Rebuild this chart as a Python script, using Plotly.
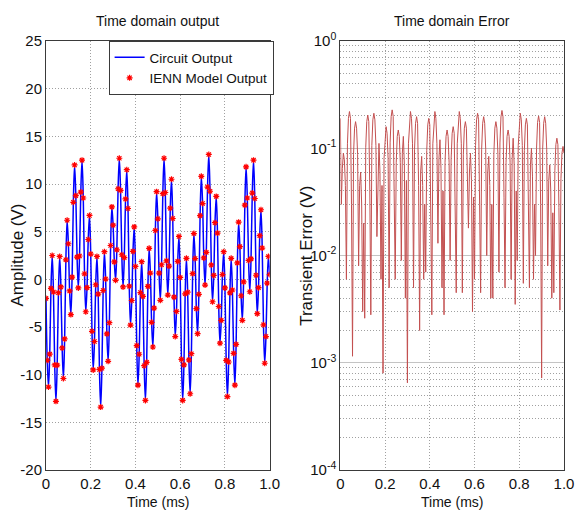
import plotly.graph_objects as go

# ---------------- data ----------------
# Left panel: circuit output (V), sampled uniformly from 0 to 1 ms
output_dt_ms = 1 / 180
circuit_output = [
    -2.0, -8.5, -11.3, -7.85, -0.95, 2.5,
    -1.33, -8.98, -12.8, -9.0, -1.4, 2.4,
    -0.8, -7.2, -10.4, -6.25, 2.05, 6.2,
    3.73, -1.22, -3.7, 0.23, 8.08, 12.0,
    8.78, 2.33, -0.9, 2.45, 9.15, 12.5,
    8.53, 0.58, -3.4, -0.87, 4.18, 6.7,
    2.65, -5.45, -9.5, -6.52, -0.57, 2.4,
    -1.55, -9.45, -13.4, -9.32, -1.17, 2.9,
    0.03, -5.72, -8.6, -4.55, 3.55, 7.6,
    5.68, 1.83, -0.1, 3.1, 9.5, 12.7,
    9.33, 2.58, -0.8, 2.28, 8.43, 11.5,
    7.43, -0.72, -4.8, -2.22, 2.93, 5.5,
    1.35, -6.95, -11.1, -7.86, -1.39, 1.85,
    -1.79, -9.06, -12.7, -8.71, -0.74, 3.25,
    0.66, -4.51, -7.1, -3.02, 5.13, 9.2,
    6.35, 0.65, -2.2, 1.53, 8.98, 12.7,
    9.11, 1.94, -1.65, 1.39, 7.46, 10.5,
    6.38, -1.87, -6.0, -3.37, 1.88, 4.5,
    0.2, -8.4, -12.7, -8.97, -1.52, 2.2,
    -1.35, -8.45, -12.0, -7.8, 0.6, 4.8,
    2.18, -3.07, -5.7, -1.57, 6.68, 10.8,
    7.95, 2.25, -0.6, 2.83, 9.68, 13.1,
    9.24, 1.51, -2.35, 0.41, 5.94, 8.7,
    4.85, -2.85, -6.7, -4.3, 0.5, 2.9,
    -0.9, -8.5, -12.3, -8.67, -1.42, 2.2,
    -1.12, -7.77, -11.1, -6.82, 1.73, 6.0,
    3.43, -1.72, -4.3, -0.27, 7.78, 11.8,
    8.53, 1.98, -1.3, 2.15, 9.05, 12.5,
    8.48, 0.43, -3.6, -0.87, 4.58, 7.3,
    3.28, -4.77, -8.8, -6.0, -0.4, 2.4,
    0.5,
]
# IENN model output overlaps the circuit output (difference below pixel level)
ienn_model_output = circuit_output

# Right panel: transient error (V), sampled uniformly from 0 to 1 ms
error_dt_ms = 1 / 220
transient_error = [
    0.19, 0.03, 0.065, 0.09, 0.078, 0.045,
    0.006, 0.11, 0.19, 0.22, 0.19, 0.03,
    0.00115, 0.088, 0.154, 0.177, 0.154, 0.088,
    0.008, 0.045, 0.06, 0.03, 0.003, 0.02,
    0.0026, 0.102, 0.177, 0.204, 0.177, 0.04,
    0.0028, 0.106, 0.184, 0.212, 0.184, 0.106,
    0.015, 0.07, 0.111, 0.06, 0.006, 0.045,
    0.0008, 0.08, 0.138, 0.159, 0.138, 0.08,
    0.005, 0.114, 0.198, 0.228, 0.198, 0.035,
    0.006, 0.074, 0.129, 0.148, 0.129, 0.074,
    0.009, 0.09, 0.129, 0.07, 0.004, 0.05,
    0.00065, 0.11, 0.19, 0.22, 0.19, 0.11,
    0.005, 0.098, 0.171, 0.197, 0.171, 0.045,
    0.002, 0.06, 0.084, 0.045, 0.006, 0.03,
    0.007, 0.095, 0.165, 0.19, 0.165, 0.03,
    0.0028, 0.11, 0.19, 0.22, 0.19, 0.11,
    0.013, 0.08, 0.12, 0.065, 0.005, 0.04,
    0.0028, 0.074, 0.129, 0.148, 0.129, 0.074,
    0.009, 0.08, 0.138, 0.159, 0.138, 0.035,
    0.0045, 0.11, 0.19, 0.22, 0.19, 0.11,
    0.0045, 0.088, 0.154, 0.177, 0.154, 0.04,
    0.018, 0.06, 0.09, 0.05, 0.003, 0.035,
    0.006, 0.106, 0.184, 0.212, 0.184, 0.03,
    0.0045, 0.098, 0.171, 0.197, 0.171, 0.098,
    0.01, 0.06, 0.084, 0.045, 0.004, 0.03,
    0.004, 0.088, 0.154, 0.177, 0.154, 0.088,
    0.007, 0.112, 0.196, 0.225, 0.196, 0.035,
    0.005, 0.074, 0.129, 0.148, 0.129, 0.074,
    0.006, 0.08, 0.124, 0.07, 0.0035, 0.04,
    0.009, 0.106, 0.184, 0.212, 0.184, 0.106,
    0.0055, 0.095, 0.165, 0.19, 0.165, 0.04,
    0.005, 0.07, 0.1, 0.055, 0.006, 0.03,
    0.01, 0.1, 0.174, 0.2, 0.174, 0.03,
    0.00072, 0.098, 0.171, 0.197, 0.171, 0.098,
    0.008, 0.05, 0.07, 0.04, 0.004, 0.025,
    0.0045, 0.062, 0.108, 0.124, 0.108, 0.028,
    0.0031, 0.052, 0.09, 0.104, 0.09,
]

time_ticks = [0, 0.2, 0.4, 0.6, 0.8, 1.0]
time_tick_labels = ["0", "0.2", "0.4", "0.6", "0.8", "1.0"]
amp_ticks = [-20, -15, -10, -5, 0, 5, 10, 15, 20, 25]
amp_tick_labels = ["-20", "-15", "-10", "-5", "0", "5", "10", "15", "20", "25"]
err_ticks = [1e-4, 1e-3, 1e-2, 1e-1, 1e0]
err_tick_labels = ["10<sup>-4</sup>", "10<sup>-3</sup>", "10<sup>-2</sup>",
                   "10<sup>-1</sup>", "10<sup>0</sup>"]
err_minor_ticks = [m * d for d in (1e-4, 1e-3, 1e-2, 1e-1) for m in range(2, 10)]

# ---------------- styling ----------------
FONT = "Liberation Sans, Arial, sans-serif"
GRID = "#a0a0a0"
DOTS = "1px,2px"
FRAME = "#3a3a3a"
TXT = "#111"

W, H = 582, 514
ML, MR, MT, MB = 46, 8, 41, 44
pw = W - ML - MR
left_dom = [0, (274 - ML) / pw]
right_dom = [(346 - ML) / pw, 1]

fig = go.Figure()
fig.add_trace(go.Scatter(
    y=circuit_output, x0=0, dx=output_dt_ms, mode="lines",
    name="Circuit Output",
    line=dict(color="rgb(0,0,255)", width=1.5, shape="spline", smoothing=1),
    xaxis="x", yaxis="y"))
fig.add_trace(go.Scatter(
    y=ienn_model_output, x0=0, dx=output_dt_ms, mode="markers",
    name="IENN Model Output",
    marker=dict(symbol="asterisk-open", size=5, color="red",
                line=dict(color="rgb(235,20,20)", width=1.2)),
    xaxis="x", yaxis="y"))
fig.add_trace(go.Scatter(
    y=transient_error, x0=0, dx=error_dt_ms, mode="lines",
    line=dict(color="rgb(195,80,80)", width=1),
    showlegend=False, xaxis="x2", yaxis="y2"))

axis_common = dict(
    showgrid=True, gridcolor=GRID, griddash=DOTS, gridwidth=1,
    showline=True, linecolor=FRAME, linewidth=1, mirror=True,
    zeroline=False, ticks="", tickfont=dict(family=FONT, size=15, color=TXT),
)

fig.update_layout(
    width=W, height=H,
    margin=dict(l=ML, r=MR, t=MT, b=MB),
    paper_bgcolor="white", plot_bgcolor="white",
    xaxis=dict(domain=left_dom, range=[0, 1], tickvals=time_ticks,
               ticktext=time_tick_labels, anchor="y", **axis_common),
    yaxis=dict(domain=[0, 1], range=[-20, 25], tickvals=amp_ticks,
               ticktext=amp_tick_labels, anchor="x", **axis_common),
    xaxis2=dict(domain=right_dom, range=[0, 1], tickvals=time_ticks,
                ticktext=time_tick_labels, anchor="y2", **axis_common),
    yaxis2=dict(domain=[0, 1], type="log", range=[-4, 0], tickvals=err_ticks,
                ticktext=err_tick_labels, anchor="x2",
                minor=dict(tickmode="array", tickvals=err_minor_ticks,
                           showgrid=True, gridcolor=GRID, griddash=DOTS,
                           gridwidth=1, ticks=""),
                **axis_common),
    legend=dict(x=left_dom[1] + 4 / pw, xanchor="right", y=1, yanchor="top",
                bgcolor="white", bordercolor=FRAME, borderwidth=1,
                font=dict(family=FONT, size=13.5, color=TXT),
                itemwidth=30, tracegroupgap=0),
    showlegend=True,
)
# decade grid lines on the log axis are drawn as light solid lines
fig.update_yaxes(selector=dict(anchor="x2"), griddash="solid", gridcolor="#c4c4c4")

ann_font = dict(family=FONT, size=14, color=TXT)
vfont = dict(family=FONT, size=17, color=TXT)
lc = (left_dom[0] + left_dom[1]) / 2
rc = (right_dom[0] + right_dom[1]) / 2
annotations = [
    dict(text="Time domain output", x=lc, y=1, xref="paper", yref="paper",
         xanchor="center", yanchor="bottom", yshift=10, showarrow=False, font=ann_font),
    dict(text="Time domain Error", x=rc, y=1, xref="paper", yref="paper",
         xanchor="center", yanchor="bottom", yshift=10, showarrow=False, font=ann_font),
    dict(text="Time (ms)", x=lc, y=0, xref="paper", yref="paper",
         xanchor="center", yanchor="top", yshift=-22, showarrow=False, font=ann_font),
    dict(text="Time (ms)", x=rc, y=0, xref="paper", yref="paper",
         xanchor="center", yanchor="top", yshift=-22, showarrow=False, font=ann_font),
    dict(text="Amplitude (V)", x=left_dom[0], y=0.5, xref="paper", yref="paper",
         xanchor="center", yanchor="middle", xshift=-29, textangle=-90,
         showarrow=False, font=vfont),
    dict(text="Transient Error (V)", x=right_dom[0], y=0.5, xref="paper", yref="paper",
         xanchor="center", yanchor="middle", xshift=-34, textangle=-90,
         showarrow=False, font=vfont),
]
fig.update_layout(annotations=annotations)

fig.write_html(
    "out.html",
    config={"displayModeBar": False},
    post_script="document.body.style.margin='0px';document.body.style.padding='0px';",
)
